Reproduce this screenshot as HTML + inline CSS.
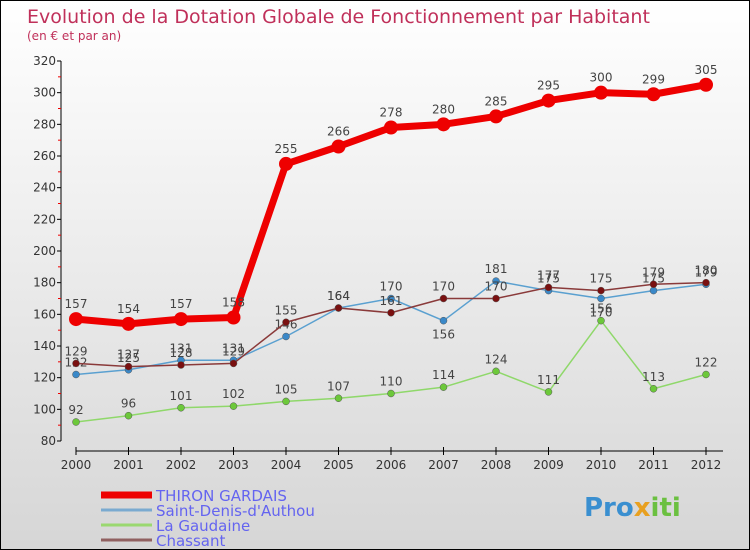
<!DOCTYPE html>
<html><head><meta charset="utf-8"><style>
body{margin:0}
#c{width:750px;height:550px;position:relative;box-sizing:border-box;border:1px solid #000;background:linear-gradient(#fff,#d6d6d6);overflow:hidden;font-family:"DejaVu Sans","Liberation Sans",sans-serif}
svg text{font-family:"DejaVu Sans","Liberation Sans",sans-serif}
</style></head><body>
<div id="c">
<svg id="s" width="750" height="550">
<text x="26" y="22" font-size="19" fill="#c0305a">Evolution de la Dotation Globale de Fonctionnement par Habitant</text>
<text x="26" y="39" font-size="12" fill="#c0305a">(en € et par an)</text>
<text x="583" y="515" font-size="26" font-weight="bold" fill="#3a8fd0">Pro<tspan fill="#e8a020">x</tspan><tspan fill="#6bc040">iti</tspan></text>
</svg>
</div>
<script>
const years=["2000","2001","2002","2003","2004","2005","2006","2007","2008","2009","2010","2011","2012"];
const yTicks=[80,100,120,140,160,180,200,220,240,260,280,300,320];
const thiron=[157,154,157,158,255,266,278,280,285,295,300,299,305];
const saintDenis=[122,125,131,131,146,164,170,156,181,175,170,175,179];
const gaudaine=[92,96,101,102,105,107,110,114,124,111,156,113,122];
const chassant=[129,127,128,129,155,164,161,170,170,177,175,179,180];
const names=["THIRON GARDAIS","Saint-Denis-d'Authou","La Gaudaine","Chassant"];
const NS="http://www.w3.org/2000/svg",s=document.getElementById('s');
const X=i=>75+i*52.5, Y=v=>440-(v-80)*380/240;
function el(t,a,p){const e=document.createElementNS(NS,t);for(const k in a)e.setAttribute(k,a[k]);(p||s).appendChild(e);return e;}
let ax=el('line',{x1:60,y1:60,x2:60,y2:440,stroke:'#000'});

yTicks.forEach((v,i)=>{el('line',{x1:56,x2:60,y1:Y(v),y2:Y(v),stroke:'#000'});
 if(i<yTicks.length-1)el('line',{x1:57,x2:60,y1:Y(v+10),y2:Y(v+10),stroke:'#e00'});
 const t=el('text',{x:55,y:Y(v)+4,'text-anchor':'end','font-size':12,fill:'#333'});t.textContent=v;
 });
let xa=el('line',{x1:75,y1:450,x2:722,y2:450,stroke:'#000'});

years.forEach((y,i)=>{el('line',{x1:X(i),x2:X(i),y1:446,y2:454,stroke:'#000'});
 const t=el('text',{x:X(i),y:468,'text-anchor':'middle','font-size':12,fill:'#333'});t.textContent=y;
 });
const series=[[gaudaine,'#8fd86a','#6cc83a',1.5,3.5],[saintDenis,'#5aa0d0','#3a88c8',1.5,3.5],[chassant,'#8a3a3a','#7a1010',1.5,3.5],[thiron,'#ee0000','#ee0000',7,7]];
const below={1:[7,10]};
series.forEach(([d,c,pc,w,r],si)=>{
 const g=el('g',{});
 
 el('polyline',{points:d.map((v,i)=>X(i)+','+Y(v)).join(' '),fill:'none',stroke:c,'stroke-width':w,'stroke-linejoin':'round'},g);
 d.forEach((v,i)=>{const p=el('circle',{cx:X(i),cy:Y(v),r:r,fill:pc,stroke:si==3?'none':'#555','stroke-width':0.5},g);
  
  const b=si==1&&[7,10].includes(i);
  const t=el('text',{x:X(i),y:b?Y(v)+18:Y(v)-(si==3?11:8),'text-anchor':'middle','font-size':12,fill:'#444'},g);t.textContent=v;
  });});
const lc=['#ee0000','#7aaad0','#9ad870','#906060'],lw=[7,3,3,3];
names.forEach((n,i)=>{const y=494+i*15;
 const l=el('line',{x1:100,x2:151,y1:y,y2:y,stroke:lc[i],'stroke-width':lw[i]});
 
 const t=el('text',{x:155,y:y+6,'font-size':15,fill:'#6464f0'});t.textContent=n;
 });
</script>
</body></html>
